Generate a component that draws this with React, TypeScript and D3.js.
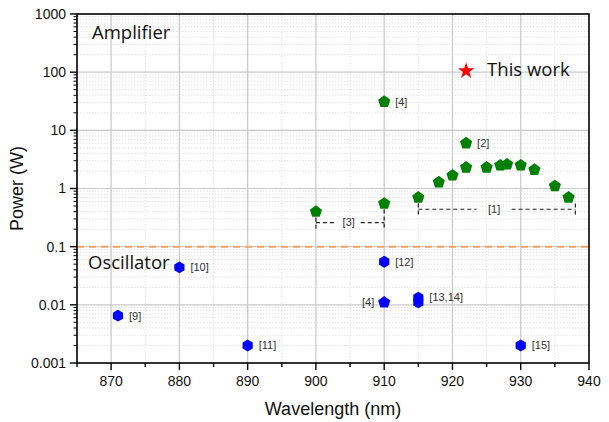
import React from 'react'
import * as d3 from 'd3'

// amplifier results (green pentagons)
const ampWavelength = [900, 910, 910, 915, 918, 920, 922, 922, 925, 927, 928, 930, 932, 935, 937]
const ampPower = [0.4, 0.55, 31, 0.7, 1.28, 1.68, 2.3, 6.0, 2.3, 2.5, 2.6, 2.5, 2.1, 1.1, 0.7]
const ampRefs = ['', '', '[4]', '', '', '', '', '[2]', '', '', '', '', '', '', '']

// oscillator results (blue hexagons, one pentagon)
const oscWavelength = [871, 880, 890, 910, 910, 915, 915, 930]
const oscPower = [0.0065, 0.044, 0.002, 0.055, 0.011, 0.011, 0.0133, 0.002]
const oscShape = ['hex', 'hex', 'hex', 'hex', 'pent', 'hex', 'hex', 'hex']
const oscRefs = ['[9]', '[10]', '[11]', '[12]', '[4]', '', '[13,14]', '[15]']
const oscRefSide = ['r', 'r', 'r', 'r', 'l', 'r', 'r', 'r']

// this work
const thisWavelength = 922
const thisPower = 105

// grouped refs drawn as dashed brackets
const bracketStart = [900, 915]
const bracketEnd = [910, 938]
const bracketLevel = [0.26, 0.44]
const bracketTopPower = [[0.4, 0.55], [0.7, 0.7]]
const bracketLabel = ['[3]', '[1]']
const bracketLabelAt = [904.8, 926.1]
const bracketGap = [24, 35]

const xTicks = [870, 880, 890, 900, 910, 920, 930, 940]
const yTicks = [0.001, 0.01, 0.1, 1, 10, 100, 1000]
const yTickLabels = ['0.001', '0.01', '0.1', '1', '10', '100', '1000']
const thresholdPower = 0.1

const W = 609, H = 422
const margin = {top: 14, right: 20, bottom: 59, left: 77}
const tickFont = 'Arial, "Liberation Sans", sans-serif'
const textFont = '"Open Sans", "Noto Sans", sans-serif'

function polygon(n: number, r: number) {
  const pts: [number, number][] = []
  for (let k = 0; k < n; k++) {
    const a = -Math.PI / 2 + k * 2 * Math.PI / n
    pts.push([r * Math.cos(a), r * Math.sin(a)])
  }
  return 'M' + pts.map(p => p[0].toFixed(2) + ',' + p[1].toFixed(2)).join('L') + 'Z'
}

const pentagon = polygon(5, 6.4)
const hexagon = polygon(6, 5.9)
const star = d3.symbol(d3.symbolStar, 85)() as string

export default function App() {
  const x = d3.scaleLinear().domain([865, 940]).range([margin.left, W - margin.right])
  const y = d3.scaleLog().domain([0.001, 1000]).range([H - margin.bottom, margin.top])
  const x0 = margin.left, x1 = W - margin.right, y0 = H - margin.bottom, y1 = margin.top

  const xMinor = d3.range(865, 940, 5).filter(v => v % 10 !== 0)
  const yMinor: number[] = []
  for (let e = -3; e < 3; e++) for (let m = 2; m < 10; m++) yMinor.push(m * Math.pow(10, e))

  return (
    <svg width={W} height={H} style={{position: 'absolute', left: 0, top: 0, background: '#fff'}}>
      {/* minor grid */}
      <g stroke="#dcdcdc" strokeWidth={0.8} strokeDasharray="1.5,1.5">
        {xMinor.map(v => <line key={'xm' + v} x1={x(v)} x2={x(v)} y1={y1} y2={y0} />)}
        {yMinor.map(v => <line key={'ym' + v} x1={x0} x2={x1} y1={y(v)} y2={y(v)} />)}
      </g>
      {/* major grid */}
      <g stroke="#c8c8c8" strokeWidth={1.2}>
        {xTicks.slice(0, -1).map(v => <line key={'xg' + v} x1={x(v)} x2={x(v)} y1={y1} y2={y0} />)}
        {yTicks.slice(1, -1).map(v => <line key={'yg' + v} x1={x0} x2={x1} y1={y(v)} y2={y(v)} />)}
      </g>

      {/* amplifier / oscillator threshold */}
      <line x1={x0} x2={x1} y1={y(thresholdPower)} y2={y(thresholdPower)}
        stroke="#f4a261" strokeWidth={2} strokeDasharray="7,5" />

      {/* brackets */}
      <g stroke="#222" strokeWidth={1.2} strokeDasharray="4,3" fill="none">
        {bracketStart.map((s, i) => {
          const e = bracketEnd[i]
          const yl = y(bracketLevel[i])
          const lc = x(bracketLabelAt[i])
          return (
            <g key={'br' + i}>
              <line x1={x(s)} x2={lc - bracketGap[i] / 2} y1={yl} y2={yl} />
              <line x1={lc + bracketGap[i] / 2} x2={x(e)} y1={yl} y2={yl} />
              <line x1={x(s)} x2={x(s)} y1={y(bracketTopPower[i][0]) + 6} y2={yl + 6} />
              <line x1={x(e)} x2={x(e)} y1={y(bracketTopPower[i][1]) + 6} y2={yl + 6} />
            </g>
          )
        })}
      </g>
      {bracketLabel.map((t, i) => (
        <text key={'bl' + i} x={x(bracketLabelAt[i])} y={y(bracketLevel[i])} dy="0.35em"
          textAnchor="middle" fontFamily={tickFont} fontSize={11} fill="#333">{t}</text>
      ))}

      {/* amplifier points */}
      {ampWavelength.map((w, i) => (
        <path key={'a' + i} d={pentagon} transform={`translate(${x(w)},${y(ampPower[i])})`} fill="#008000" />
      ))}
      {ampWavelength.map((w, i) => ampRefs[i] ? (
        <text key={'at' + i} x={x(w) + 11} y={y(ampPower[i])} dy="0.35em"
          fontFamily={tickFont} fontSize={11} fill="#333">{ampRefs[i]}</text>
      ) : null)}

      {/* oscillator points */}
      {oscWavelength.map((w, i) => (
        <path key={'o' + i} d={oscShape[i] === 'hex' ? hexagon : pentagon}
          transform={`translate(${x(w)},${y(oscPower[i])})`} fill="#0000ff" />
      ))}
      {oscWavelength.map((w, i) => oscRefs[i] ? (
        <text key={'ot' + i} x={x(w) + (oscRefSide[i] === 'r' ? 11 : -10)} y={y(oscPower[i])} dy="0.35em"
          textAnchor={oscRefSide[i] === 'r' ? 'start' : 'end'}
          fontFamily={tickFont} fontSize={11} fill="#333">{oscRefs[i]}</text>
      ) : null)}

      {/* this work */}
      <path d={star} transform={`translate(${x(thisWavelength)},${y(thisPower)})`} fill="#ff0000" />
      <text x={x(thisWavelength) + 21} y={76} fontFamily={textFont} fontSize={18.5} fill="#111">This work</text>

      <text x={x0 + 15} y={39} fontFamily={textFont} fontSize={18.5} fill="#111">Amplifier</text>
      <text x={x0 + 11} y={269} fontFamily={textFont} fontSize={18.5} fill="#111">Oscillator</text>

      {/* frame */}
      <rect x={x0} y={y1} width={x1 - x0} height={y0 - y1} fill="none" stroke="#000" strokeWidth={1.6} />

      {/* axis ticks */}
      <g stroke="#000" strokeWidth={1.4}>
        {xTicks.map(v => <line key={'xt' + v} x1={x(v)} x2={x(v)} y1={y0} y2={y0 + 7} />)}
        {xMinor.map(v => <line key={'xmt' + v} x1={x(v)} x2={x(v)} y1={y0} y2={y0 + 4} />)}
        {yTicks.map(v => <line key={'yt' + v} x1={x0 - 7} x2={x0} y1={y(v)} y2={y(v)} />)}
        {yMinor.map(v => <line key={'ymt' + v} x1={x0 - 3.5} x2={x0} y1={y(v)} y2={y(v)} strokeWidth={1} />)}
      </g>
      {xTicks.map(v => (
        <text key={'xl' + v} x={x(v)} y={y0 + 23} textAnchor="middle"
          fontFamily={tickFont} fontSize={14} fill="#111">{v}</text>
      ))}
      {yTicks.map((v, i) => (
        <text key={'yl' + v} x={x0 - 11} y={y(v)} dy="0.35em" textAnchor="end"
          fontFamily={tickFont} fontSize={14} fill="#111">{yTickLabels[i]}</text>
      ))}

      <text x={(x0 + x1) / 2} y={415} textAnchor="middle" fontFamily={tickFont} fontSize={18} fill="#111">Wavelength (nm)</text>
      <text transform={`translate(23,${(y0 + y1) / 2}) rotate(-90)`} textAnchor="middle"
        fontFamily={tickFont} fontSize={18} fill="#111">Power (W)</text>
    </svg>
  )
}
